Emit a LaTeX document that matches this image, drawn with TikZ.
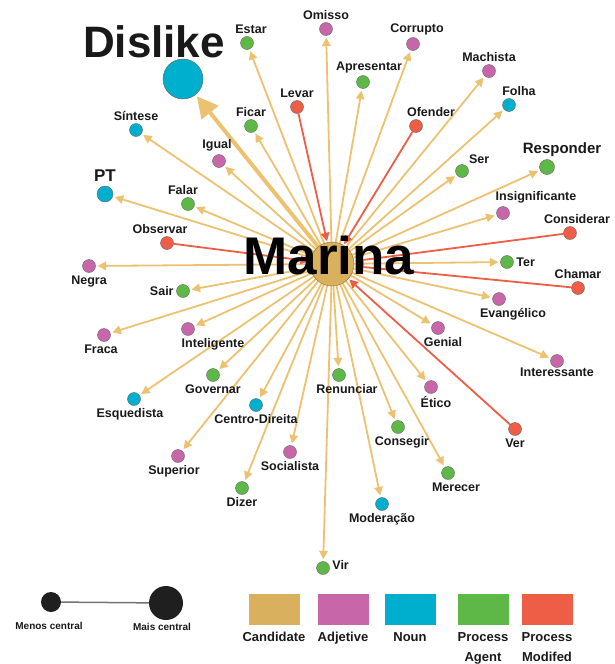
\documentclass[tikz,border=0pt]{standalone}
\usepackage{fontspec}
\setmainfont{Liberation Sans}
\usetikzlibrary{arrows.meta}
\definecolor{candcol}{HTML}{D9B15E}
\definecolor{edgecol}{HTML}{ECC271}
\definecolor{adjcol}{HTML}{C767A9}
\definecolor{nouncol}{HTML}{00AECE}
\definecolor{agentcol}{HTML}{5DB847}
\definecolor{modcol}{HTML}{EE5D45}
\pgfdeclarelayer{background}
\pgfsetlayers{background,main}
\tikzset{
    vtx/.style = {circle, draw=black!60, line width=0.4pt, minimum size=13pt, inner sep=0pt},
    adj/.style = {vtx, fill=adjcol},
    noun/.style = {vtx, fill=nouncol},
    agent/.style = {vtx, fill=agentcol},
    modif/.style = {vtx, fill=modcol},
    every label/.style = {font=\bfseries\fontsize{12.5}{14}\selectfont, inner sep=1.5pt, text=black!90},
    gold-arrow/.style = {color=edgecol, line width=1.8pt, shorten >=2pt, -{Triangle[length=8.5pt,width=8.5pt]}},
    red-arrow/.style = {color=modcol, line width=1.8pt, shorten >=1pt, -{Triangle[length=8.5pt,width=8.5pt]}},
    dislike-arrow/.style = {color=edgecol, line width=4pt, shorten >=2pt, -{Triangle[length=21pt,width=21pt]}},
    legend-box/.style = {rectangle, minimum width=51pt, minimum height=31pt, inner sep=0pt},
    leg-text/.style = {font=\bfseries\fontsize{13}{20}\selectfont, align=center, yshift=-5pt},
    leg-small/.style = {font=\bfseries\fontsize{10}{11}\selectfont},
}

\begin{document}
\begin{tikzpicture}[x=1pt, y=-1pt, label distance=1pt]
\useasboundingbox (0,0) rectangle (615,664);

% centre
\node[circle, fill=candcol, draw=candcol!70!black, line width=0.5pt, minimum size=44pt, inner sep=0pt] (core) at (332,264) {};

% upper left
\node[noun, minimum size=40pt, label={[font=\bfseries\fontsize{44}{44}\selectfont, xshift=-29pt, inner sep=0pt]above:Dislike}] (dislike) at (183,79) {};
\node[agent, label={[xshift=4pt]above:Estar}] (estar) at (247,43) {};
\node[modif, label=above:Levar] (levar) at (297,107) {};
\node[noun, label=above:Síntese] (sintese) at (136,130) {};
\node[agent, label=above:Ficar] (ficar) at (251,126) {};
\node[adj, label={[xshift=-2pt]above:Igual}] (igual) at (219,161) {};
\node[noun, minimum size=16pt, label={[font=\bfseries\fontsize{17}{18}\selectfont, yshift=2pt]above:PT}] (pt) at (105,194) {};
\node[agent, label={[xshift=-5pt]above:Falar}] (falar) at (188,204) {};
\node[modif, label={[xshift=-7pt]above:Observar}] (observar) at (167,243) {};

% upper right
\node[adj, label=above:Omisso] (omisso) at (326,29) {};
\node[adj, label={[xshift=4pt]above:Corrupto}] (corrupto) at (413,44) {};
\node[agent, label={[xshift=6pt]above:Apresentar}] (apresentar) at (363,82) {};
\node[adj, label=above:Machista] (machista) at (489,71) {};
\node[noun, label={[xshift=10pt]above:Folha}] (folha) at (509,105) {};
\node[modif, label={[xshift=15pt]above:Ofender}] (ofender) at (416,126) {};
\node[agent, label=above right:Ser] (ser) at (462,171) {};
\node[agent, minimum size=15pt, label={[font=\bfseries\fontsize{15}{16}\selectfont, xshift=15pt]above:Responder}] (responder) at (547,167) {};
\node[adj, label={[xshift=33pt]above:Insignificante}] (insignificante) at (503,213) {};
\node[modif, label={[xshift=7pt]above:Considerar}] (considerar) at (570,233) {};

% lower left
\node[adj, label=below:Negra] (negra) at (89,266) {};
\node[agent, label=left:Sair] (sair) at (183,291) {};
\node[adj, label={[xshift=-3pt]below:Fraca}] (fraca) at (104,335) {};
\node[adj, label={[xshift=25pt]below:Inteligente}] (inteligente) at (188,329) {};
\node[agent, label=below:Governar] (governar) at (213,375) {};
\node[noun, label={[xshift=-4pt]below:Esquedista}] (esquedista) at (134,399) {};
\node[noun, label=below:Centro-Direita] (centro) at (256,405) {};
\node[adj, label={[xshift=-4pt]below:Superior}] (superior) at (178,456) {};
\node[agent, label=below:Dizer] (dizer) at (242,488) {};
\node[adj, label=below:Socialista] (socialista) at (290,452) {};

% lower right
\node[agent, label=right:Ter] (ter) at (507,262) {};
\node[modif, label=above:Chamar] (chamar) at (578,288) {};
\node[adj, label={[xshift=14pt]below:Evangélico}] (evangelico) at (499,299) {};
\node[adj, label={[xshift=5pt]below:Genial}] (genial) at (438,328) {};
\node[adj, label={[yshift=3pt]below:Interessante}] (interessante) at (557,361) {};
\node[agent, label={[xshift=8pt]below:Renunciar}] (renunciar) at (339,375) {};
\node[adj, label={[xshift=5pt]below:Ético}] (etico) at (431,387) {};
\node[agent, label={[xshift=4pt]below:Consegir}] (consegir) at (398,427) {};
\node[modif, label=below:Ver] (ver) at (515,429) {};
\node[noun, label=below:Moderação] (moderacao) at (382,504) {};
\node[agent, label={[xshift=8pt]below:Merecer}] (merecer) at (448,473) {};
\node[agent, label={[yshift=3pt]right:Vir}] (vir) at (323,568) {};

% connectors
\begin{pgfonlayer}{background}
\path[gold-arrow] (core.center)
    edge (estar) edge (sintese) edge (ficar) edge (igual) edge (pt) edge (falar)
    edge (omisso) edge (corrupto) edge (apresentar) edge (machista) edge (folha)
    edge (ser) edge (responder) edge (insignificante)
    edge (negra) edge (sair) edge (fraca) edge (inteligente) edge (governar)
    edge (esquedista) edge (centro) edge (superior) edge (dizer) edge (socialista)
    edge (ter) edge (evangelico) edge (genial) edge (interessante) edge (renunciar)
    edge (etico) edge (consegir) edge (moderacao) edge (merecer) edge (vir);
\path[red-arrow] (levar) edge (core) (ofender) edge (core) (observar) edge (core)
    (considerar) edge (core) (chamar) edge (core) (ver) edge (core);
\draw[dislike-arrow] (core.center) -- (dislike);
\end{pgfonlayer}

\node[font=\bfseries\fontsize{53}{53}\selectfont, inner sep=0pt] (marina) at (329,256) {Marina};

% legend
\node[circle, fill=black!88, minimum size=20pt, inner sep=0pt, label={[leg-small, yshift=-7pt, xshift=-2pt]below:Menos central}] (menos) at (51,602) {};
\node[circle, fill=black!88, minimum size=34pt, inner sep=0pt, label={[leg-small, xshift=-4pt]below:Mais central}] (mais) at (166,603) {};
\draw[black!55, line width=1.5pt] (menos) -- (mais);

\node[legend-box, fill=candcol, label={[leg-text]below:Candidate}] (leg-cand) at (274,609) {};
\node[legend-box, fill=adjcol, label={[leg-text]below:Adjetive}] (leg-adj) at (343,609) {};
\node[legend-box, fill=nouncol, label={[leg-text]below:Noun}] (leg-noun) at (410,609) {};
\node[legend-box, fill=agentcol, label={[leg-text]below:Process\\Agent}] (leg-agent) at (483,609) {};
\node[legend-box, fill=modcol, label={[leg-text]below:Process\\Modifed}] (leg-mod) at (547,609) {};
\end{tikzpicture}
\end{document}
